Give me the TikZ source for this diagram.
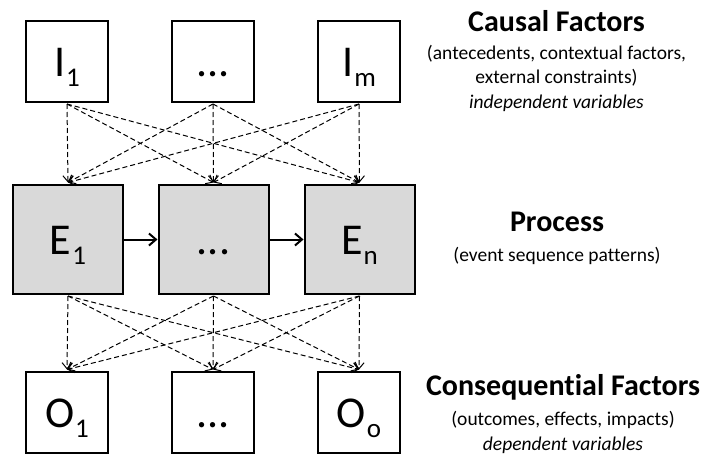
\documentclass[tikz,border=0pt]{standalone}
\usepackage{fontspec}
\setmainfont{Carlito}[Ligatures=NoCommon]
\usetikzlibrary{arrows.meta}
\definecolor{boxgray}{HTML}{D9D9D9}
\newcommand\blab[2]{#1\kern1pt\raisebox{-10pt}{\fontsize{27}{27}\selectfont #2}}
\tikzset{
  smallbox/.style={draw=black, line width=2pt, fill=white, minimum width=82pt, minimum height=81pt, inner sep=0pt, text height=29pt, text depth=0pt, font=\fontsize{44}{44}\selectfont},
  procbox/.style={draw=black, line width=2pt, fill=boxgray, minimum width=110pt, minimum height=109pt, inner sep=0pt, text height=29pt, text depth=0pt, font=\fontsize{44}{44}\selectfont},
  dasharrow/.style={dash pattern=on 5pt off 3pt, line width=1pt, -{Straight Barb[length=6pt,width=10pt,line width=1pt]}},
  solidarrow/.style={line width=2pt, -{Straight Barb[length=7pt,width=12pt,line width=2pt]}},
  headtext/.style={anchor=base, inner sep=0pt, font=\fontsize{30}{30}\selectfont\bfseries},
  subtext/.style={anchor=base, inner sep=0pt, font=\fontsize{19.5}{19.5}\selectfont},
}
\begin{document}
\begin{tikzpicture}[x=1pt,y=-1pt]
\useasboundingbox (0,0) rectangle (708,455);
% top row
\node[smallbox] (i1) at (67,61.5) {\blab{I}{1}};
\node[smallbox] (i2) at (213,61.5) {...};
\node[smallbox] (i3) at (359,61.5) {\blab{I}{m}};
% middle row
\node[procbox] (e1) at (68,239.5) {\blab{E}{1}};
\node[procbox] (e2) at (213.5,239.5) {...};
\node[procbox] (e3) at (359.5,239.5) {\blab{E}{n}};
% bottom row
\node[smallbox] (o1) at (67,412.5) {\blab{O}{1}};
\node[smallbox] (o2) at (213,412.5) {...};
\node[smallbox] (o3) at (359,412.5) {\blab{O}{o}};
% dashed arrows
\foreach \s in {i1,i2,i3}{
  \foreach \t in {e1,e2,e3}{
    \draw[dasharrow] ([yshift=-1pt]\s.south) -- ([yshift=1.5pt]\t.north);
  }
}
\foreach \s in {e1,e2,e3}{
  \foreach \t in {o1,o2,o3}{
    \draw[dasharrow] ([yshift=-1pt]\s.south) -- ([yshift=1.5pt]\t.north);
  }
}
% process arrows
\draw[solidarrow] (e1.east) -- (e2.west);
\draw[solidarrow] (e2.east) -- (e3.west);
% right texts
\node[headtext] (cf) at (556.5,31.7) {Causal Factors};
\node[subtext] (cf1) at (556.5,59.3) {(antecedents, contextual factors,};
\node[subtext] (cf2) at (556.5,83.8) {external constraints)};
\node[subtext, font=\fontsize{19.5}{19.5}\selectfont\itshape] (cf3) at (556.5,108.3) {independent variables};
\node[headtext] (pr) at (557,231.7) {Process};
\node[subtext] (pr1) at (557,261.7) {(event sequence patterns)};
\node[headtext] (qf) at (563,395) {Consequential Factors};
\node[subtext] (qf1) at (563,425) {(outcomes, effects, impacts)};
\node[subtext, font=\fontsize{19.5}{19.5}\selectfont\itshape] (qf2) at (563,450) {dependent variables};
\end{tikzpicture}
\end{document}
